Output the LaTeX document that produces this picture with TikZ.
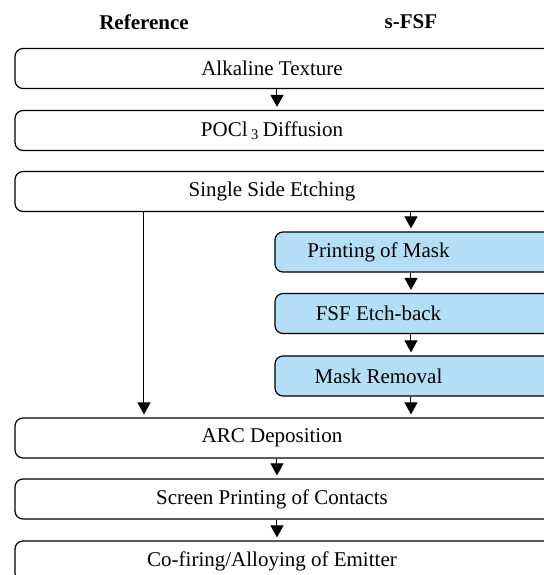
\documentclass[tikz,border=0pt]{standalone}
\usepackage{fontspec}
\setmainfont{Liberation Serif}
\usetikzlibrary{arrows.meta}
\definecolor{maskblue}{RGB}{180,222,246}
\tikzset{
  bigbox/.style={draw, line width=0.6pt, rounded corners=4pt, minimum width=272.5pt,
    minimum height=20pt, inner sep=0pt, execute at begin node={\hspace*{-15.5pt}}},
  maskbox/.style={bigbox, fill=maskblue, minimum width=142.5pt,
    execute at begin node={\hspace*{-23.5pt}}},
  flow/.style={line width=0.5pt, -{Triangle[width=6.5pt,length=6pt]}, shorten >=1.5pt},
  head/.style={font=\fontsize{10.5}{12}\selectfont\bfseries}
}
\begin{document}
\begin{tikzpicture}[x=0.5pt, y=-0.5pt, font=\fontsize{10.5}{12}\selectfont]
\useasboundingbox (0,0) rectangle (543,575);
\node[head] (refhead) at (144,22) {Reference};
\node[head] (fsfhead) at (411,22) {s-FSF};
\coordinate (mid) at (277,0);
\node[bigbox] (alk) at (287.5,68.5) {Alkaline Texture};
\node[bigbox] (pocl) at (287.5,130.5) {POCl\,\textsubscript{3}\,Diffusion};
\node[bigbox] (etch) at (287.5,191.5) {Single Side Etching};
\node[maskbox] (print) at (417.5,252) {Printing of Mask};
\node[maskbox] (back) at (417.5,313.5) {FSF Etch-back};
\node[maskbox] (remove) at (417.5,376) {Mask Removal};
\node[bigbox] (arc) at (287.5,438) {ARC Deposition};
\node[bigbox] (screen) at (287.5,499) {Screen Printing of Contacts};
\node[bigbox] (fire) at (287.5,561) {Co-firing/Alloying of Emitter};
\draw[flow] (alk.south -| mid) -- (pocl.north -| mid);
\draw[flow] (etch.south -| fsfhead) -- (print.north -| fsfhead);
\draw[flow] (print.south -| fsfhead) -- (back.north -| fsfhead);
\draw[flow] (back.south -| fsfhead) -- (remove.north -| fsfhead);
\draw[flow] (remove.south -| fsfhead) -- (arc.north -| fsfhead);
\draw[flow] (etch.south -| refhead) -- (arc.north -| refhead);
\draw[flow] (arc.south -| mid) -- (screen.north -| mid);
\draw[flow] (screen.south -| mid) -- (fire.north -| mid);
\end{tikzpicture}
\end{document}
